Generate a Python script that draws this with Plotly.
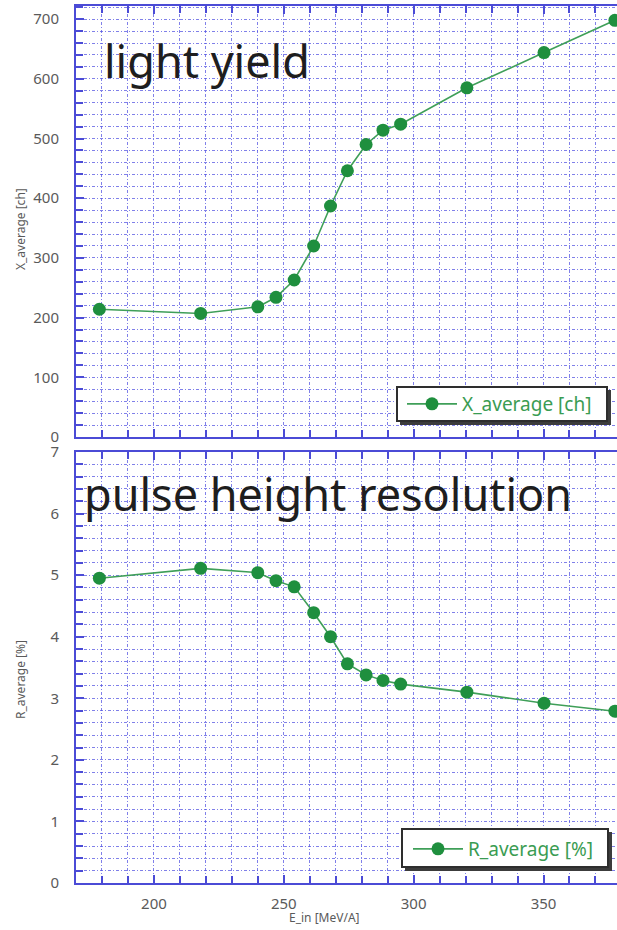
import plotly.graph_objects as go

# Beam energy at the scintillator entrance [MeV/A]
e_in = [179, 218, 240, 247, 254, 261.5, 268, 274.5, 281.7, 288.2, 295, 320.5, 350.2, 377.5]
# Mean light output [ch]
x_average = [214, 207, 218, 234, 263, 320, 387, 446, 490, 514, 524, 585, 644, 698]
# Pulse height resolution [%]
r_average = [4.95, 5.11, 5.04, 4.91, 4.81, 4.39, 4.00, 3.56, 3.38, 3.29, 3.23, 3.10, 2.92, 2.79]

W, H = 617, 930
ML, MR, MT, MB = 76, 0, 6, 47
PW, PH = W - ML - MR, H - MT - MB


def px_x(p):
    return (p - ML) / PW


def px_y(p):
    return (H - MB - p) / PH


FRAME = "#4b4bd6"
GRID = "rgba(85,85,225,0.75)"
DASH = "3px,2px,1px,2px"
GREEN_LINE = "#3f9f58"
GREEN_MARK = "#1f8f3e"
TICKFONT = dict(family="Noto Sans, DejaVu Sans, sans-serif", size=15, color="#5a5a5a")
LEGFONT = dict(family="Noto Sans, DejaVu Sans, sans-serif", size=19, color="#3a9c52")

fig = go.Figure()
fig.add_trace(go.Scatter(
    x=e_in, y=x_average, mode="lines+markers", name="X_average [ch]",
    line=dict(color=GREEN_LINE, width=1.6),
    marker=dict(color=GREEN_MARK, size=13),
    xaxis="x", yaxis="y", legend="legend", cliponaxis=False,
))
fig.add_trace(go.Scatter(
    x=e_in, y=r_average, mode="lines+markers", name="R_average [%]",
    line=dict(color=GREEN_LINE, width=1.6),
    marker=dict(color=GREEN_MARK, size=13),
    xaxis="x2", yaxis="y2", legend="legend2", cliponaxis=False,
))

x_common = dict(
    range=[170, 378.3], tick0=0, dtick=50, automargin=False,
    showline=True, linecolor=FRAME, linewidth=2, mirror="ticks",
    ticks="inside", ticklen=8, tickcolor=FRAME, tickwidth=1.5,
    showgrid=True, gridcolor=GRID, gridwidth=1, griddash=DASH,
    minor=dict(dtick=10, ticks="inside", ticklen=7, tickcolor=FRAME, tickwidth=1.5,
               showgrid=True, gridcolor=GRID, gridwidth=1, griddash=DASH),
    zeroline=False, tickfont=TICKFONT,
)
y_common = dict(
    automargin=False,
    showline=True, linecolor=FRAME, linewidth=2, mirror=False,
    ticks="inside", ticklen=8, tickcolor=FRAME, tickwidth=1.5,
    showgrid=True, gridcolor=GRID, gridwidth=1, griddash=DASH,
    zeroline=False, tickfont=TICKFONT, ticklabelstandoff=12,
)


def minor_y(step):
    return dict(dtick=step, ticks="inside", ticklen=7, tickcolor=FRAME, tickwidth=1.5,
                showgrid=True, gridcolor=GRID, gridwidth=1, griddash=DASH)


# legend boxes are drawn as shapes; the legends themselves are transparent
legend_item = dict(xanchor="left", yanchor="middle", bgcolor="rgba(0,0,0,0)",
                   borderwidth=0, font=LEGFONT, itemwidth=50)

fig.update_layout(
    width=W, height=H,
    margin=dict(l=ML, r=MR, t=MT, b=MB),
    paper_bgcolor="white", plot_bgcolor="white",
    xaxis=dict(**x_common, anchor="y", showticklabels=False, matches="x2"),
    xaxis2=dict(**x_common, anchor="y2", ticklabelstandoff=6),
    yaxis=dict(**y_common, domain=[px_y(437), 1.0], range=[0, 722], dtick=100,
               minor=minor_y(20), anchor="x"),
    yaxis2=dict(**y_common, domain=[0, px_y(452)], range=[0, 7], dtick=1,
                minor=minor_y(0.2), anchor="x2"),
    legend=dict(**legend_item, x=px_x(402), y=px_y(404)),
    legend2=dict(**legend_item, x=px_x(408), y=px_y(849)),
    showlegend=True,
)

# legend frames with a drop shadow: (box, shadow) in pixels
frames = [
    ((397, 387, 607, 421), (400, 390, 611, 425)),
    ((402, 829, 608, 867), (405, 832, 612, 871)),
]
for (bx0, by0, bx1, by1), (sx0, sy0, sx1, sy1) in frames:
    fig.add_shape(type="rect", xref="paper", yref="paper",
                  x0=px_x(sx0), x1=px_x(sx1), y0=px_y(sy1), y1=px_y(sy0),
                  fillcolor="#3c3c3c", line=dict(width=0), layer="above")
    fig.add_shape(type="rect", xref="paper", yref="paper",
                  x0=px_x(bx0), x1=px_x(bx1), y0=px_y(by1), y1=px_y(by0),
                  fillcolor="white", line=dict(color="#2e2e2e", width=2), layer="above")

big = dict(family="Noto Sans, DejaVu Sans, sans-serif", size=45, color="#1e1e1e")
small = dict(family="Noto Sans, DejaVu Sans, sans-serif", size=12, color="#5a5a5a")
fig.add_annotation(text="light yield", xref="paper", yref="paper",
                   x=px_x(102), y=px_y(61), xanchor="left", yanchor="middle",
                   showarrow=False, font=big)
fig.add_annotation(text="pulse height resolution", xref="paper", yref="paper",
                   x=px_x(82), y=px_y(493), xanchor="left", yanchor="middle",
                   showarrow=False, font=big)
fig.add_annotation(text="X_average [ch]", xref="paper", yref="paper",
                   x=px_x(20), y=px_y(229), textangle=-90,
                   xanchor="center", yanchor="middle", showarrow=False, font=small)
fig.add_annotation(text="R_average [%]", xref="paper", yref="paper",
                   x=px_x(20), y=px_y(680), textangle=-90,
                   xanchor="center", yanchor="middle", showarrow=False, font=small)
fig.add_annotation(text="E_in [MeV/A]", xref="paper", yref="paper",
                   x=px_x(324), y=px_y(917), xanchor="center", yanchor="middle",
                   showarrow=False, font=small)

fig.write_html("out.html")
